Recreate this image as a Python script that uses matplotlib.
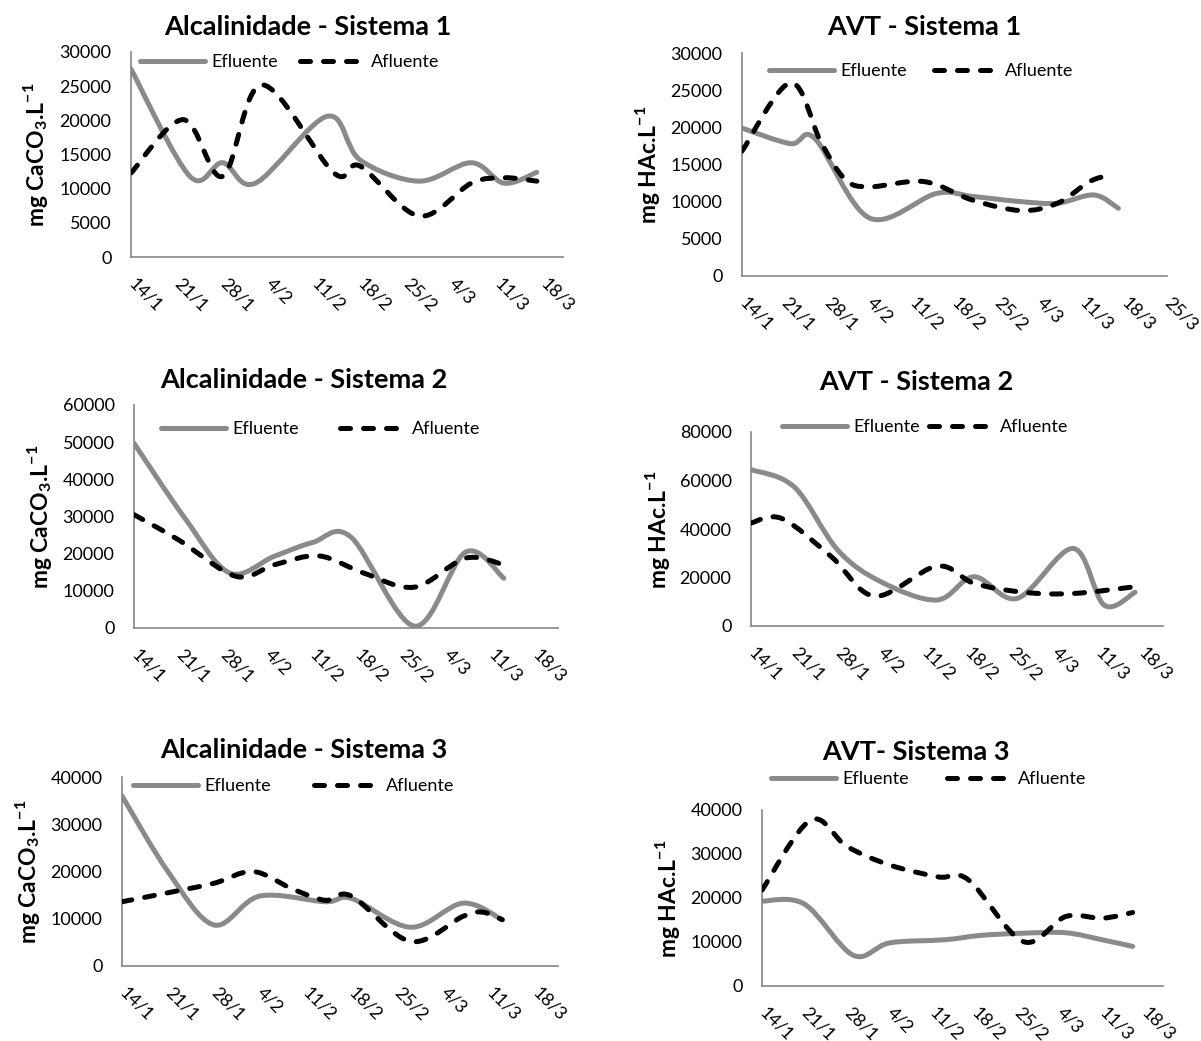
import numpy as np
import matplotlib
matplotlib.use("Agg")
import matplotlib.pyplot as plt
from matplotlib.path import Path
from matplotlib.patches import PathPatch
from matplotlib.lines import Line2D

plt.rcParams['font.family'] = ['Lato', 'DejaVu Sans']
plt.rcParams['mathtext.fontset'] = 'custom'
plt.rcParams['mathtext.rm'] = 'Lato'
plt.rcParams['mathtext.bf'] = 'Lato:bold'

# x axis: days after 14/1, one label per week
date_labels = ['14/1', '21/1', '28/1', '4/2', '11/2', '18/2', '25/2', '4/3', '11/3', '18/3', '25/3']

# Alcalinidade - Sistema 1
alc1_ef_days = [0, 9, 14, 19, 30, 35, 44, 52, 57, 62]
alc1_ef = [27500, 11800, 13800, 10800, 20600, 14200, 11100, 13800, 10800, 12400]
alc1_af_days = [0, 8, 14, 20, 31, 35, 44, 52, 57, 62]
alc1_af = [12300, 20100, 11800, 25200, 12300, 13300, 6000, 10800, 11600, 11100]

# AVT - Sistema 1
avt1_ef_days = [0, 8, 12, 21, 32, 38, 46, 52, 58, 62]
avt1_ef = [19900, 17800, 18500, 7800, 11100, 10700, 10000, 9800, 10900, 9100]
avt1_af_days = [0, 8, 13, 17, 21, 30, 38, 46, 52, 57, 60]
avt1_af = [16800, 26000, 18000, 13000, 12000, 12700, 10200, 8800, 9800, 12600, 13500]

# Alcalinidade - Sistema 2
alc2_ef_days = [0, 8, 15, 22, 28, 34, 44, 52, 58]
alc2_ef = [49700, 29500, 14800, 19300, 23000, 24500, 500, 20400, 13400]
alc2_af_days = [0, 7, 16, 22, 29, 36, 44, 52, 58]
alc2_af = [30500, 23700, 13900, 17000, 19400, 14800, 11000, 18800, 17000]

# AVT - Sistema 2
avt2_ef_days = [0, 7, 14, 21, 30, 36, 43, 52, 57, 62]
avt2_ef = [64500, 57300, 31300, 18200, 10700, 20300, 11400, 32000, 8600, 13900]
avt2_af_days = [0, 5, 13, 20, 30, 36, 44, 52, 62]
avt2_af = [42500, 44300, 28500, 12300, 24700, 17600, 13900, 13400, 16200]

# Alcalinidade - Sistema 3
alc3_ef_days = [0, 7, 14, 21, 31, 35, 44, 52, 58]
alc3_ef = [36000, 20000, 8700, 14800, 13600, 14300, 8200, 13300, 9800]
alc3_af_days = [0, 7, 14, 20, 26, 31, 35, 44, 52, 55, 58]
alc3_af = [13600, 15500, 17500, 20000, 16300, 13900, 14800, 5200, 10500, 11400, 9800]

# AVT- Sistema 3
avt3_ef_days = [0, 7, 15, 21, 30, 36, 43, 50, 56, 61]
avt3_ef = [19300, 18600, 7000, 9800, 10500, 11500, 12000, 12100, 10500, 9000]
avt3_af_days = [0, 8, 14, 21, 29, 34, 43, 50, 56, 61]
avt3_af = [21800, 37700, 31700, 27500, 24800, 24100, 10100, 15800, 15400, 16700]

ALC_LABEL = r'mg CaCO$_\mathbf{3}$.L$^\mathbf{-1}$'
AVT_LABEL = r'mg HAc.L$^\mathbf{-1}$'

W, H = 1201, 1041
GRAY = '#8a8a8a'
AXCOL = '#868686'
LW = 3.6
DASH = (0, (2.0, 2.6))

# layout in pixels: axes (left, top, right, bottom), title centre, ylabel centre,
# legend (start x, y, column spacing)
panels = [
    dict(title='Alcalinidade - Sistema 1', ylabel=ALC_LABEL, ymax=30000, ystep=5000, xmax=66, nlab=10,
         ef=(alc1_ef_days, alc1_ef), af=(alc1_af_days, alc1_af),
         box=(131, 52, 563, 257), tpos=(308, 27), ypos=(36, 155), leg=(140, 62, 1.2)),
    dict(title='AVT - Sistema 1', ylabel=AVT_LABEL, ymax=30000, ystep=5000, xmax=70, nlab=11,
         ef=(avt1_ef_days, avt1_ef), af=(avt1_af_days, avt1_af),
         box=(742, 53, 1167, 276), tpos=(924, 27), ypos=(648, 165), leg=(769, 71, 1.5)),
    dict(title='Alcalinidade - Sistema 2', ylabel=ALC_LABEL, ymax=60000, ystep=10000, xmax=66.5, nlab=10,
         ef=(alc2_ef_days, alc2_ef), af=(alc2_af_days, alc2_af),
         box=(134, 405, 558, 628), tpos=(304, 380), ypos=(40, 517), leg=(161, 429, 2.3)),
    dict(title='AVT - Sistema 2', ylabel=AVT_LABEL, ymax=80000, ystep=20000, xmax=66.5, nlab=10,
         ef=(avt2_ef_days, avt2_ef), af=(avt2_af_days, avt2_af),
         box=(751, 432, 1163, 626), tpos=(916, 382), ypos=(657, 530), leg=(782, 427, 0.5)),
    dict(title='Alcalinidade - Sistema 3', ylabel=ALC_LABEL, ymax=40000, ystep=10000, xmax=66.5, nlab=10,
         ef=(alc3_ef_days, alc3_ef), af=(alc3_af_days, alc3_af),
         box=(122, 777, 558, 966), tpos=(304, 750), ypos=(27, 872), leg=(133, 786, 2.4)),
    dict(title='AVT- Sistema 3', ylabel=AVT_LABEL, ymax=40000, ystep=10000, xmax=66, nlab=10,
         ef=(avt3_ef_days, avt3_ef), af=(avt3_af_days, avt3_af),
         box=(762, 810, 1163, 986), tpos=(916, 752), ypos=(667, 899), leg=(771, 779, 2.1)),
]


def smooth_path(x, y):
    # Excel-style smoothed line: cubic Bezier segments through every point
    pts = np.column_stack([x, y]).astype(float)
    n = len(pts)
    verts = [pts[0]]
    codes = [Path.MOVETO]
    for i in range(n - 1):
        p0 = pts[max(i - 1, 0)]
        p1 = pts[i]
        p2 = pts[i + 1]
        p3 = pts[min(i + 2, n - 1)]
        verts += [p1 + (p2 - p0) / 6, p2 - (p3 - p1) / 6, p2]
        codes += [Path.CURVE4] * 3
    return Path(verts, codes)


fig = plt.figure(figsize=(W / 100, H / 100), dpi=100)

for p in panels:
    l, t, r, b = p['box']
    ax = fig.add_axes([l / W, 1 - b / H, (r - l) / W, (b - t) / H])

    ef_days, ef_vals = p['ef']
    af_days, af_vals = p['af']
    ax.add_patch(PathPatch(smooth_path(ef_days, ef_vals), fill=False, edgecolor=GRAY,
                           lw=LW, capstyle='round', joinstyle='round', zorder=2))
    ax.add_patch(PathPatch(smooth_path(af_days, af_vals), fill=False, edgecolor='black',
                           lw=LW, linestyle=DASH, capstyle='round', joinstyle='round', zorder=3))

    ax.set_xlim(0, p['xmax'])
    ax.set_ylim(0, p['ymax'])
    ax.set_yticks(np.arange(0, p['ymax'] + 1, p['ystep']))
    ax.set_xticks(np.arange(p['nlab']) * 7)
    ax.set_xticklabels(date_labels[:p['nlab']])

    for side in ['top', 'right']:
        ax.spines[side].set_visible(False)
    for side in ['left', 'bottom']:
        ax.spines[side].set_color(AXCOL)
        ax.spines[side].set_linewidth(1.2)
    ax.tick_params(axis='y', length=0, pad=14, labelsize=13)
    ax.tick_params(axis='x', length=0, pad=17, labelsize=13)
    plt.setp(ax.get_xticklabels(), rotation=-45, ha='left', va='center', rotation_mode='anchor')

    fig.text(p['tpos'][0] / W, 1 - p['tpos'][1] / H, p['title'], ha='center', va='center',
             fontsize=19.5, fontweight='bold')
    fig.text(p['ypos'][0] / W, 1 - p['ypos'][1] / H, p['ylabel'], ha='center', va='center',
             rotation=90, fontsize=16.5, fontweight='bold')

    handles = [Line2D([], [], color=GRAY, lw=LW, solid_capstyle='round'),
               Line2D([], [], color='black', lw=LW, linestyle=DASH, dash_capstyle='round')]
    lx, ly, cs = p['leg']
    ax.legend(handles, ['Efluente', 'Afluente'], loc='center left',
              bbox_to_anchor=(lx / W, 1 - ly / H), bbox_transform=fig.transFigure,
              ncol=2, frameon=False, fontsize=13, handlelength=3.6, handletextpad=0.35,
              columnspacing=cs, borderpad=0, borderaxespad=0)

fig.savefig('out.png', dpi=100)
